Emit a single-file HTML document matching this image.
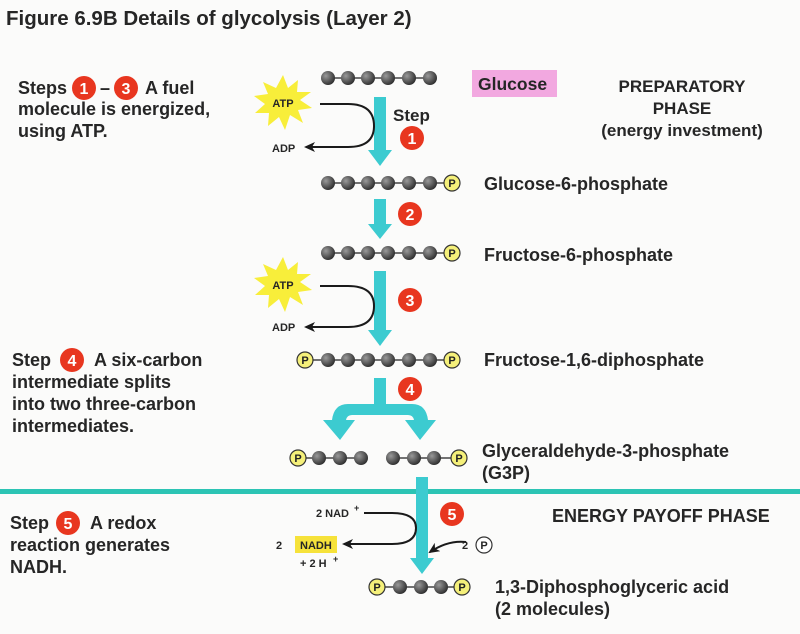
<!DOCTYPE html>
<html><head><meta charset="utf-8"><style>
html,body{margin:0;padding:0;background:#fbfbfa;}
svg{display:block;}
text{font-family:"Liberation Sans",Arial,sans-serif;font-weight:bold;fill:#262626;}
</style></head><body>
<svg width="800" height="634" viewBox="0 0 800 634" xmlns="http://www.w3.org/2000/svg">
<defs>
<radialGradient id="bg" cx="0.35" cy="0.35" r="0.7"><stop offset="0" stop-color="#9a9a9a"/><stop offset="1" stop-color="#2c2c2c"/></radialGradient>
<marker id="ah" markerWidth="12" markerHeight="10" refX="9" refY="5" orient="auto" markerUnits="userSpaceOnUse"><path d="M0,0 L11,5 L0,10 L3,5 Z" fill="#1a1a1a"/></marker>
<g id="ball"><circle r="7" fill="url(#bg)"/></g>
<g id="P"><circle r="8" fill="#f5f07a" stroke="#333" stroke-width="1.2"/><text y="4" text-anchor="middle" font-size="11" style="fill:#222">P</text></g>
</defs>

<text x="6" y="25" font-size="20.5">Figure 6.9B  Details of glycolysis (Layer 2)</text>

<!-- left texts -->
<g font-size="18">
<text x="18" y="94">Steps</text>
<circle cx="84" cy="88" r="12" fill="#e8361f"/><text x="84" y="94" text-anchor="middle" style="fill:#fff" font-size="16">1</text>
<text x="100" y="94">–</text>
<circle cx="126" cy="88" r="12" fill="#e8361f"/><text x="126" y="94" text-anchor="middle" style="fill:#fff" font-size="16">3</text>
<text x="145" y="94">A fuel</text>
<text x="18" y="115">molecule is energized,</text>
<text x="18" y="137">using ATP.</text>

<text x="12" y="366">Step</text>
<circle cx="72" cy="360" r="12" fill="#e8361f"/><text x="72" y="366" text-anchor="middle" style="fill:#fff" font-size="16">4</text>
<text x="94" y="366">A six-carbon</text>
<text x="12" y="388">intermediate splits</text>
<text x="12" y="410">into two three-carbon</text>
<text x="12" y="432">intermediates.</text>

<text x="10" y="529">Step</text>
<circle cx="68" cy="523" r="12" fill="#e8361f"/><text x="68" y="529" text-anchor="middle" style="fill:#fff" font-size="16">5</text>
<text x="90" y="529">A redox</text>
<text x="10" y="551">reaction generates</text>
<text x="10" y="573">NADH.</text>
</g>

<!-- right labels -->
<rect x="472" y="70" width="85" height="27" fill="#f2a8e0"/>
<g font-size="18">
<text x="478" y="90" font-size="17.5">Glucose</text>
<text x="682" y="92" text-anchor="middle" font-size="17">PREPARATORY</text>
<text x="682" y="114" text-anchor="middle" font-size="17">PHASE</text>
<text x="682" y="136" text-anchor="middle" font-size="17">(energy investment)</text>
<text x="484" y="190">Glucose-6-phosphate</text>
<text x="484" y="261">Fructose-6-phosphate</text>
<text x="484" y="366">Fructose-1,6-diphosphate</text>
<text x="482" y="457">Glyceraldehyde-3-phosphate</text>
<text x="482" y="479">(G3P)</text>
<text x="552" y="522">ENERGY PAYOFF PHASE</text>
<text x="495" y="593">1,3-Diphosphoglyceric acid</text>
<text x="495" y="615">(2 molecules)</text>
</g>

<!-- divider -->
<rect x="0" y="489" width="800" height="5" fill="#2cc4b4"/>

<!-- molecule rows -->
<g stroke="#444" stroke-width="1.5">
<line x1="328" y1="78" x2="430" y2="78"/>
<line x1="328" y1="183" x2="452" y2="183"/>
<line x1="328" y1="253" x2="452" y2="253"/>
<line x1="305" y1="360" x2="452" y2="360"/>
<line x1="298" y1="458" x2="361" y2="458"/>
<line x1="393" y1="458" x2="459" y2="458"/>
<line x1="377" y1="587" x2="462" y2="587"/>
</g>
<g>
<use href="#ball" x="328" y="78"/><use href="#ball" x="348" y="78"/><use href="#ball" x="368" y="78"/><use href="#ball" x="388" y="78"/><use href="#ball" x="409" y="78"/><use href="#ball" x="430" y="78"/>
<use href="#ball" x="328" y="183"/><use href="#ball" x="348" y="183"/><use href="#ball" x="368" y="183"/><use href="#ball" x="388" y="183"/><use href="#ball" x="409" y="183"/><use href="#ball" x="430" y="183"/><use href="#P" x="452" y="183"/>
<use href="#ball" x="328" y="253"/><use href="#ball" x="348" y="253"/><use href="#ball" x="368" y="253"/><use href="#ball" x="388" y="253"/><use href="#ball" x="409" y="253"/><use href="#ball" x="430" y="253"/><use href="#P" x="452" y="253"/>
<use href="#P" x="305" y="360"/><use href="#ball" x="328" y="360"/><use href="#ball" x="348" y="360"/><use href="#ball" x="368" y="360"/><use href="#ball" x="388" y="360"/><use href="#ball" x="409" y="360"/><use href="#ball" x="430" y="360"/><use href="#P" x="452" y="360"/>
<use href="#P" x="298" y="458"/><use href="#ball" x="319" y="458"/><use href="#ball" x="340" y="458"/><use href="#ball" x="361" y="458"/>
<use href="#ball" x="393" y="458"/><use href="#ball" x="414" y="458"/><use href="#ball" x="434" y="458"/><use href="#P" x="459" y="458"/>
<use href="#P" x="377" y="587"/><use href="#ball" x="400" y="587"/><use href="#ball" x="421" y="587"/><use href="#ball" x="441" y="587"/><use href="#P" x="462" y="587"/>
</g>

<!-- cyan arrows -->
<g fill="#3ccbd0">
<path d="M374,97 H386 V150 H392 L380,166 L368,150 H374 Z"/>
<path d="M374,199 H386 V224 H392 L380,239 L368,224 H374 Z"/>
<path d="M374,271 H386 V330 H392 L380,346 L368,330 H374 Z"/>
<path d="M374,378 H386 V404 H412 Q426,404 428,420 H436 L420,440 L405,420 H414 Q413,415 408,415 H352 Q347,415 346,420 H355 L340,440 L323,420 H332 Q334,404 348,404 H374 Z"/>
<path d="M416,477 H428 V558 H434 L422,574 L410,558 H416 Z"/>
</g>

<!-- step circles -->
<text x="393" y="121" font-size="17">Step</text>
<g font-size="16">
<circle cx="412" cy="138" r="12" fill="#e8361f"/><text x="412" y="144" text-anchor="middle" style="fill:#fff">1</text>
<circle cx="410" cy="214" r="12" fill="#e8361f"/><text x="410" y="220" text-anchor="middle" style="fill:#fff">2</text>
<circle cx="410" cy="300" r="12" fill="#e8361f"/><text x="410" y="306" text-anchor="middle" style="fill:#fff">3</text>
<circle cx="410" cy="389" r="12" fill="#e8361f"/><text x="410" y="395" text-anchor="middle" style="fill:#fff">4</text>
<circle cx="452" cy="514" r="12" fill="#e8361f"/><text x="452" y="520" text-anchor="middle" style="fill:#fff">5</text>
</g>

<!-- ATP stars -->
<g>
<polygon points="283,75 288,88 298,80 297,92 311,92 300,100 312,108 298,110 303,123 290,115 285,130 279,117 268,126 269,113 255,113 265,104 254,96 268,94 263,82 276,88" fill="#f8ee3a"/>
<text x="283" y="107" text-anchor="middle" font-size="11">ATP</text>
</g>
<g transform="translate(0,182)">
<polygon points="283,75 288,88 298,80 297,92 311,92 300,100 312,108 298,110 303,123 290,115 285,130 279,117 268,126 269,113 255,113 265,104 254,96 268,94 263,82 276,88" fill="#f8ee3a"/>
<text x="283" y="107" text-anchor="middle" font-size="11">ATP</text>
</g>
<g fill="none" stroke="#1a1a1a" stroke-width="2">
<path d="M320,104 H348 Q374,104 374,126 Q374,147 348,147 H306" marker-end="url(#ah)"/>
<path d="M320,286 H348 Q374,286 374,306 Q374,327 348,327 H306" marker-end="url(#ah)"/>
<path d="M364,513 H392 Q416,513 416,528 Q416,544 392,544 H344" marker-end="url(#ah)"/>
<path d="M466,542 Q448,540 430,552" marker-end="url(#ah)"/>
</g>
<g font-size="11">
<text x="272" y="152">ADP</text>
<text x="272" y="331">ADP</text>
<text x="316" y="517">2 NAD</text><text x="354" y="511" font-size="9">+</text>
<rect x="295" y="536" width="42" height="17" fill="#f6e23a"/>
<text x="300" y="549">NADH</text>
<text x="276" y="549">2</text>
<text x="300" y="567">+ 2 H</text><text x="333" y="562" font-size="9">+</text>
<text x="462" y="549">2</text>
</g>
<circle cx="484" cy="545" r="8" fill="#fff" stroke="#333" stroke-width="1.2"/>
<text x="484" y="549" text-anchor="middle" font-size="11">P</text>
</svg>
</body></html>
